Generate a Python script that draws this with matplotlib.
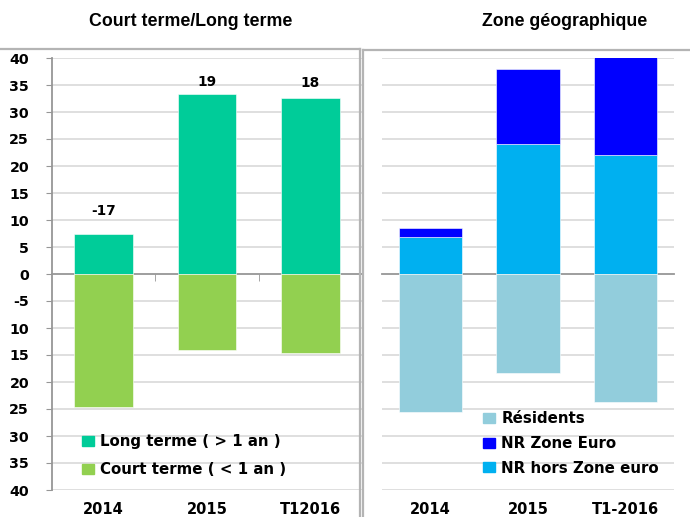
import matplotlib
matplotlib.use("Agg")
import matplotlib.pyplot as plt
import numpy as np
from matplotlib.lines import Line2D
from matplotlib.patches import Patch

# ---------------- data ----------------
left_categories = ["2014", "2015", "T12016"]
long_terme = [7.5, 33.3, 32.6]
court_terme = [-24.6, -14.1, -14.6]
net_labels = ["-17", "19", "18"]

right_categories = ["2014", "2015", "T1-2016"]
nr_hors_zone = [6.9, 24.0, 22.0]
nr_zone_euro = [1.6, 13.9, 18.2]
residents = [-25.5, -18.4, -23.7]

y_ticks = [40, 35, 30, 25, 20, 15, 10, 5, 0, -5, -10, -15, -20, -25, -30, -35, -40]
y_tick_labels = ["40", "35", "30", "25", "20", "15", "10", "5", "0", "-5",
                 "10", "15", "20", "25", "30", "35", "40"]

# ---------------- style ----------------
C_LONG = "#00CC99"
C_COURT = "#92D050"
C_RES = "#92CDDC"
C_NRZE = "#0000FF"
C_NRHZ = "#00B0F0"
GRID = "#DCDCDC"
AXIS = "#969696"
FRAME = "#B4B4B4"
FONT = "DejaVu Sans"
TFONT = "Liberation Sans"

W, H = 690, 517
fig = plt.figure(figsize=(W / 100, H / 100), dpi=100)

ax1 = fig.add_axes([52 / W, 27 / H, 310 / W, 432 / H])
ax2 = fig.add_axes([382 / W, 27 / H, 292 / W, 432 / H])

for ax in (ax1, ax2):
    ax.set_xlim(-0.5, 2.5)
    ax.set_ylim(-40, 40)
    ax.set_yticks(y_ticks)
    for y in y_ticks:
        if y != 0:
            ax.axhline(y, color=GRID, lw=1.3, zorder=0)
    for s in ("top", "right"):
        ax.spines[s].set_visible(False)
    ax.spines["bottom"].set_position(("data", 0))
    ax.spines["bottom"].set_color(AXIS)
    ax.spines["bottom"].set_linewidth(1.3)
    ax.spines["bottom"].set_zorder(1)
    ax.set_xticks([0, 1, 2])
    ax.tick_params(axis="x", which="major", length=0, labelbottom=False)

# ---- left panel ----
x = np.arange(len(left_categories))
ax1.bar(x, long_terme, width=0.57, color=C_LONG, edgecolor="white", lw=0.4, zorder=2)
ax1.bar(x, court_terme, width=0.57, color=C_COURT, edgecolor="white", lw=0.4, zorder=2)
ax1.spines["left"].set_color(AXIS)
ax1.spines["left"].set_linewidth(1.3)
ax1.set_yticklabels(y_tick_labels)
ax1.tick_params(axis="y", length=4, color=AXIS, pad=12.5)
for lab in ax1.get_yticklabels():
    lab.set_fontfamily(FONT)
    lab.set_fontweight("bold")
    lab.set_fontsize(10.3)
ax1.set_xticks([0.5, 1.5], minor=True)
ax1.tick_params(axis="x", which="minor", length=5, color=AXIS, direction="out")

offsets = [16.5, 8.6, 10.8]
for xi, v, lab, off in zip(x, long_terme, net_labels, offsets):
    ax1.annotate(lab, (xi, v), xytext=(0, off), textcoords="offset points",
                 ha="center", va="center", fontfamily=FONT, fontweight="bold",
                 fontsize=9.8)

for xi, c in zip(x, left_categories):
    ax1.text(xi, -0.046, c, transform=ax1.get_xaxis_transform(), ha="center",
             va="center", fontfamily=FONT, fontweight="bold", fontsize=10.5)

h1 = [Patch(color=C_LONG), Patch(color=C_COURT)]
ax1.legend(h1, ["Long terme ( > 1 an )", "Court terme ( < 1 an )"],
           loc="center left", bbox_to_anchor=(0.097, 0.079),
           frameon=False, borderpad=0, borderaxespad=0,
           handlelength=0.8, handleheight=0.65, handletextpad=0.42,
           labelspacing=0.85, prop={"family": FONT, "weight": "bold", "size": 10.8})

# ---- right panel ----
x2 = np.arange(len(right_categories))
ax2.bar(x2, nr_hors_zone, width=0.65, color=C_NRHZ, edgecolor="white", lw=0.4, zorder=2)
ax2.bar(x2, nr_zone_euro, width=0.65, bottom=nr_hors_zone, color=C_NRZE,
        edgecolor="white", lw=0.4, zorder=2)
ax2.bar(x2, residents, width=0.65, color=C_RES, edgecolor="white", lw=0.4, zorder=2)
ax2.spines["left"].set_visible(False)
ax2.tick_params(axis="y", length=0, labelleft=False)

for xi, c in zip(x2, right_categories):
    ax2.text(xi, -0.046, c, transform=ax2.get_xaxis_transform(), ha="center",
             va="center", fontfamily=FONT, fontweight="bold", fontsize=10.5)

h2 = [Patch(color=C_RES), Patch(color=C_NRZE), Patch(color=C_NRHZ)]
ax2.legend(h2, ["Résidents", "NR Zone Euro", "NR hors Zone euro"],
           loc="center left", bbox_to_anchor=(0.346, 0.108),
           frameon=False, borderpad=0, borderaxespad=0,
           handlelength=0.8, handleheight=0.65, handletextpad=0.42,
           labelspacing=0.65, prop={"family": FONT, "weight": "bold", "size": 10.8})

# ---- titles ----
fig.text(191 / W, 1 - 21 / H, "Court terme/Long terme", ha="center", va="center",
         fontfamily=TFONT, fontweight="bold", fontsize=12.8)
fig.text(565 / W, 1 - 21 / H, "Zone géographique", ha="center", va="center",
         fontfamily=TFONT, fontweight="bold", fontsize=12.8)

# ---- panel frames ----
yl = 1 - 48.5 / H
yr = 1 - 50 / H
fig.add_artist(Line2D([0, 360 / W], [yl, yl], transform=fig.transFigure, color=FRAME, lw=1.6))
fig.add_artist(Line2D([360 / W, 360 / W], [0, yl], transform=fig.transFigure, color=FRAME, lw=1.6))
fig.add_artist(Line2D([363 / W, 363 / W], [0, yr], transform=fig.transFigure, color=FRAME, lw=1.6))
fig.add_artist(Line2D([363 / W, 1], [yr, yr], transform=fig.transFigure, color=FRAME, lw=1.6))

fig.savefig("out.png", dpi=100)
